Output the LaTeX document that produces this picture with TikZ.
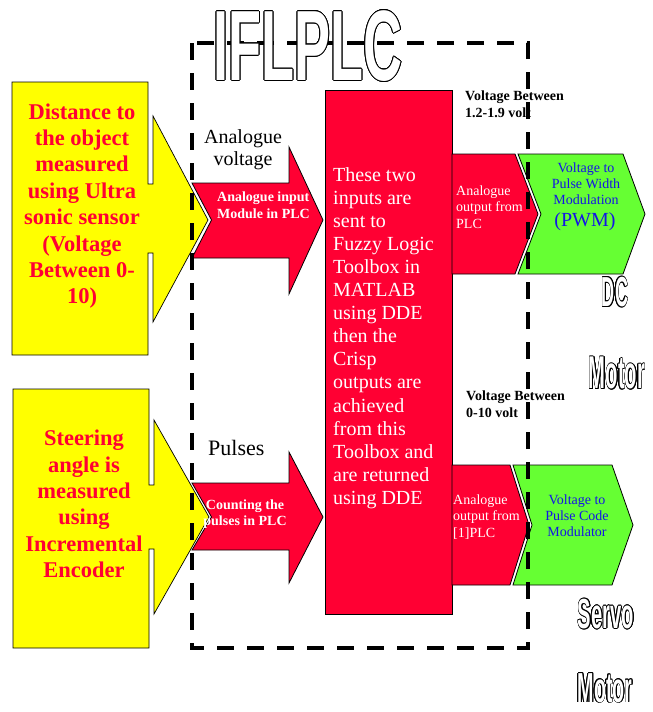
\documentclass[tikz,border=0pt]{standalone}
\usepackage{fontspec}
\setmainfont{Liberation Serif}
\newfontfamily\outfont{Liberation Sans}

\definecolor{sensoryellow}{HTML}{FFFF00}
\definecolor{plcred}{HTML}{FF0033}
\definecolor{modgreen}{HTML}{66FF33}
\definecolor{modblue}{HTML}{1414E6}

% hollow lettering: black copies around the glyphs, white fill on top
% #1 = horizontal squeeze, #2 = text
\newcommand\hollowtext[2]{%
  \foreach \ang in {0,22.5,...,337.5}{%
    \pgfmathsetlengthmacro\hdx{0.65pt*cos(\ang)}%
    \pgfmathsetlengthmacro\hdy{0.65pt*sin(\ang)}%
    \rlap{\hspace*{\hdx}\raisebox{\hdy}{\color{black}\scalebox{#1}[1]{#2}}}}%
  {\color{white}\scalebox{#1}[1]{#2}}}

\begin{document}
\begin{tikzpicture}[x=1pt,y=-1pt,
  yellowbox/.style={fill=sensoryellow, draw=black, line width=0.7pt},
  redshape/.style={fill=plcred, draw=black, line width=0.8pt},
  greenshape/.style={fill=modgreen, draw=black, line width=0.8pt},
  plcframe/.style={draw=black, line width=3.8pt, dash pattern=on 17pt off 13pt},
  sensortext/.style={inner sep=0pt, align=center, text=plcred,
    font=\fontsize{22.5}{26.4}\selectfont\bfseries},
  arrowtext/.style={inner sep=0pt, text=white,
    font=\fontsize{14}{16.5}\selectfont\bfseries},
  outtext/.style={inner sep=0pt, align=left, text=white,
    font=\fontsize{14}{16.5}\selectfont},
  modtext/.style={inner sep=0pt, align=center, text=modblue,
    font=\fontsize{14}{15.8}\selectfont},
  rangetext/.style={inner sep=0pt, align=left, text=black,
    font=\fontsize{14}{17}\selectfont\bfseries},
  signaltext/.style={inner sep=0pt, text=black},
  hollow/.style={inner sep=0pt, font=\outfont\bfseries}
]
\useasboundingbox (0,0) rectangle (653,712);

% sensor callouts
\path[yellowbox] (12,82) -- (148,82) -- (148,184) -- (153,184) -- (153,116)
  -- (208,220) -- (153,322) -- (153,253) -- (148,253) -- (148,355)
  -- (12,355) -- cycle;
\path[yellowbox] (13,389) -- (149,389) -- (149,485) -- (154,485) -- (154,420)
  -- (209,517) -- (154,614) -- (154,549) -- (149,549) -- (149,648)
  -- (13,648) -- cycle;

% PLC input arrows
\path[redshape] (192,183) -- (289,183) -- (289,147) -- (323,220) -- (289,294)
  -- (289,258) -- (192,258) -- (211.5,220) -- cycle;
\path[redshape] (192,483) -- (289,483) -- (289,452) -- (323,517) -- (289,583)
  -- (289,550) -- (192,550) -- (211.5,517) -- cycle;

% fuzzy logic block
\path[redshape] (325,90) rectangle (452,614);

% output stages
\path[redshape] (452,154) -- (515,154) -- (538,214) -- (515,274) -- (452,274) -- cycle;
\path[greenshape] (518,154) -- (623,154) -- (645,214) -- (623,274) -- (518,274)
  -- (541,214) -- cycle;
\path[redshape] (452,465) -- (510,465) -- (529,525) -- (510,585) -- (452,585) -- cycle;
\path[greenshape] (513,465) -- (612,465) -- (633,525) -- (612,585) -- (513,585)
  -- (532,525) -- cycle;

% texts
\node[sensortext] (distance) at (82,206)
  {Distance to\\the object\\measured\\using Ultra\\sonic sensor\\(Voltage\\Between 0-\\10)};
\node[sensortext] (steering) at (84,504)
  {Steering\\angle is\\measured\\using\\Incremental\\Encoder};

\node[signaltext, align=center, font=\fontsize{20}{22}\selectfont] (voltage) at (243,150)
  {Analogue\\voltage};
\node[signaltext, anchor=west, font=\fontsize{22}{24}\selectfont] (pulses) at (208,448) {Pulses};

\node[arrowtext, align=left, anchor=west] (aimod) at (217,205) {Analogue input\\Module in PLC};
\node[arrowtext, align=center] (counter) at (245,514) {Counting the\\pulses in PLC};

\node[inner sep=0pt, align=left, anchor=west, text=white,
  font=\fontsize{20}{23.1}\selectfont] (fuzzy) at (333,338)
  {These two\\inputs are\\sent to\\Fuzzy Logic\\Toolbox in\\MATLAB\\using DDE\\then the\\Crisp\\outputs are\\achieved\\from this\\Toolbox and\\are returned\\using DDE};

\node[outtext, anchor=west] (aout1) at (456,207) {Analogue\\output from\\PLC};
\node[outtext, anchor=west] (aout2) at (453,517) {Analogue\\output from\\{[1]}PLC};

\node[modtext] (pwmtext) at (586,184) {Voltage to\\Pulse Width\\Modulation};
\node[inner sep=0pt, text=modblue, font=\fontsize{20}{22}\selectfont] (pwm) at (585,222) {(PWM)};
\node[modtext] (pcm) at (577,516) {Voltage to\\Pulse Code\\Modulator};

\node[rangetext, anchor=west] (range1) at (465,104) {Voltage Between\\1.2-1.9 volt};
\node[rangetext, anchor=west] (range2) at (466,404) {Voltage Between\\0-10 volt};

% PLC boundary
\draw[plcframe] (192,43) rectangle (528,648);

% hollow captions
\node[hollow, font=\outfont\bfseries\fontsize{100}{100}\selectfont] (title) at (308,46)
  {\hollowtext{0.54}{IFLPLC}};
\node[hollow, font=\outfont\bfseries\fontsize{42}{42}\selectfont] (dc) at (615,292)
  {\hollowtext{0.43}{DC}};
\node[hollow, font=\outfont\bfseries\fontsize{46}{46}\selectfont] (motor1) at (617,373)
  {\hollowtext{0.44}{Motor}};
\node[hollow, font=\outfont\bfseries\fontsize{42}{42}\selectfont] (servo) at (606,614)
  {\hollowtext{0.48}{Servo}};
\node[hollow, font=\outfont\bfseries\fontsize{42}{42}\selectfont] (motor2) at (605,688)
  {\hollowtext{0.47}{Motor}};
\end{tikzpicture}
\end{document}
